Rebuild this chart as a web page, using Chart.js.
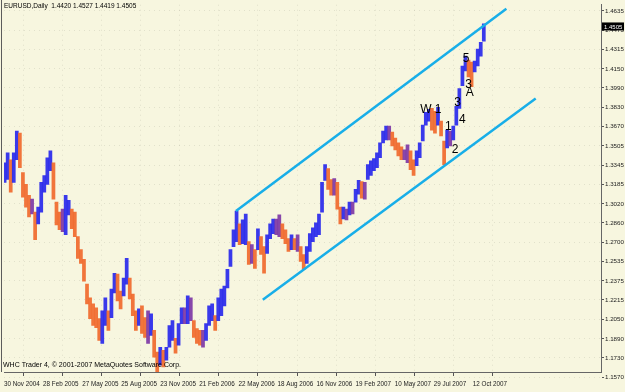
<!DOCTYPE html>
<html>
<head>
<meta charset="utf-8">
<script src="https://cdn.jsdelivr.net/npm/chart.js@4.4.0/dist/chart.umd.min.js"></script>
<style>
  html, body { margin: 0; padding: 0; background: #f7f6df; }
  #chart { display: block; }
</style>
</head>
<body>
<canvas id="chart" width="625" height="392"></canvas>
<script>
// EURUSD daily, drawn as one range bar per week (5 daily bars)
var symbolTitle = 'EURUSD,Daily  1.4420 1.4527 1.4419 1.4505';
var copyrightText = 'WHC Trader 4, \u00a9 2001-2007 MetaQuotes Software Corp.';
var lastPrice = 1.4505;
var barsPerWeek = 5;
var barsPerDateTick = 64;

var dateTicks = ['30 Nov 2004', '28 Feb 2005', '27 May 2005', '25 Aug 2005', '23 Nov 2005',
  '21 Feb 2006', '22 May 2006', '18 Aug 2006', '16 Nov 2006', '19 Feb 2007',
  '10 May 2007', '29 Jul 2007', '12 Oct 2007'];

var priceTicks = [1.4635, 1.4475, 1.4315, 1.4150, 1.3990, 1.3830, 1.3670, 1.3505, 1.3345,
  1.3185, 1.3020, 1.2860, 1.2700, 1.2535, 1.2375, 1.2215, 1.2050, 1.1890, 1.1730, 1.1570];

var weeklyHigh = [
  1.3364, 1.3447, 1.3389, 1.3447, 1.3629, 1.3612, 1.3282, 1.3183, 1.3092, 1.3059,
  1.2951, 1.2993, 1.3199, 1.3257, 1.3406, 1.3464, 1.3364, 1.3034, 1.2951, 1.2976,
  1.3092, 1.3050, 1.2976, 1.2951, 1.2745, 1.2637, 1.2555, 1.2348, 1.2232, 1.2183,
  1.2150, 1.2059, 1.2125, 1.2232, 1.2125, 1.2307, 1.2439, 1.2431, 1.2290, 1.2398,
  1.2563, 1.2398, 1.2265, 1.2125, 1.2141, 1.2166, 1.2067, 1.2125, 1.2100, 1.1960,
  1.1778, 1.1819, 1.1794, 1.1819, 1.2001, 1.2042, 1.1894, 1.2017, 1.2150, 1.2150,
  1.2249, 1.2232, 1.2042, 1.1976, 1.1960, 1.1960, 1.2017, 1.2166, 1.2183, 1.2084,
  1.2232, 1.2307, 1.2331, 1.2472, 1.2637, 1.2803, 1.2960, 1.2852, 1.2885, 1.2935,
  1.2703, 1.2679, 1.2637, 1.2811, 1.2745, 1.2662, 1.2761, 1.2852, 1.2893, 1.2893,
  1.2927, 1.2852, 1.2803, 1.2728, 1.2761, 1.2728, 1.2761, 1.2662, 1.2596, 1.2662,
  1.2770, 1.2819, 1.2860, 1.2935, 1.3199, 1.3348, 1.3315, 1.3224, 1.3232, 1.3199,
  1.2993, 1.2993, 1.2976, 1.3034, 1.3034, 1.3141, 1.3216, 1.3207, 1.3199, 1.3348,
  1.3381, 1.3398, 1.3447, 1.3530, 1.3629, 1.3670, 1.3670, 1.3621, 1.3571, 1.3530,
  1.3497, 1.3472, 1.3513, 1.3464, 1.3389, 1.3464, 1.3530, 1.3679, 1.3786, 1.3811,
  1.3819, 1.3794, 1.3827, 1.3712, 1.3546, 1.3637, 1.3629, 1.3670, 1.3836, 1.3984,
  1.4174, 1.4257, 1.4224, 1.4207, 1.4216, 1.4315, 1.4373, 1.4527
];

var weeklyLow = [
  1.3199, 1.3224, 1.3117, 1.3199, 1.3389, 1.3323, 1.3075, 1.2993, 1.2910, 1.2935,
  1.2720, 1.2852, 1.2951, 1.3117, 1.3183, 1.3298, 1.3059, 1.2844, 1.2803, 1.2786,
  1.2761, 1.2927, 1.2811, 1.2745, 1.2563, 1.2522, 1.2373, 1.2183, 1.2059, 1.2001,
  1.1984, 1.1877, 1.1852, 1.2001, 1.1960, 1.2067, 1.2274, 1.2207, 1.2141, 1.2249,
  1.2348, 1.2224, 1.2084, 1.1960, 1.2001, 1.1935, 1.1902, 1.1852, 1.1918, 1.1736,
  1.1615, 1.1670, 1.1654, 1.1712, 1.1819, 1.1877, 1.1770, 1.1836, 1.2017, 1.2017,
  1.2017, 1.2042, 1.1902, 1.1852, 1.1836, 1.1819, 1.1877, 1.2001, 1.2042, 1.1960,
  1.2042, 1.2084, 1.2166, 1.2315, 1.2497, 1.2662, 1.2703, 1.2679, 1.2687, 1.2679,
  1.2513, 1.2522, 1.2480, 1.2637, 1.2596, 1.2439, 1.2604, 1.2728, 1.2770, 1.2761,
  1.2745, 1.2728, 1.2687, 1.2621, 1.2637, 1.2637, 1.2621, 1.2538, 1.2472, 1.2522,
  1.2621, 1.2703, 1.2745, 1.2761, 1.2951, 1.3216, 1.3141, 1.3092, 1.3092, 1.2976,
  1.2852, 1.2893, 1.2885, 1.2927, 1.2935, 1.3034, 1.3100, 1.3067, 1.3059, 1.3224,
  1.3257, 1.3298, 1.3323, 1.3406, 1.3530, 1.3555, 1.3555, 1.3505, 1.3472, 1.3422,
  1.3389, 1.3389, 1.3364, 1.3307, 1.3257, 1.3340, 1.3406, 1.3546, 1.3679, 1.3712,
  1.3637, 1.3612, 1.3679, 1.3588, 1.3348, 1.3488, 1.3505, 1.3555, 1.3679, 1.3819,
  1.4009, 1.4133, 1.4083, 1.4001, 1.4125, 1.4174, 1.4257, 1.4381
];

// channel lines, in (bar number, price)
var upperChannel = [{ x: 380, y: 1.2959 }, { x: 823, y: 1.4654 }];
var lowerChannel = [{ x: 424, y: 1.2216 }, { x: 871, y: 1.3902 }];

// wave counts written on the chart
var waveLabels = [
  { text: 'W', bar: 691, price: 1.3805 },
  { text: '1', bar: 711, price: 1.3805 },
  { text: '1', bar: 728, price: 1.3662 },
  { text: '2', bar: 739, price: 1.3474 },
  { text: '3', bar: 743, price: 1.3869 },
  { text: '4', bar: 751, price: 1.3722 },
  { text: '5', bar: 757, price: 1.4232 },
  { text: '3', bar: 761, price: 1.4017 },
  { text: 'A', bar: 763, price: 1.3949 }
];

var upColor = 'rgba(40,40,235,0.92)';
var flatColor = 'rgba(125,55,165,0.92)';
var downColor = 'rgba(240,105,45,0.92)';
var channelColor = '#18aee8';
var smallFont = 'Liberation Sans';

var mids = weeklyHigh.map(function(h, i) { return (h + weeklyLow[i]) / 2; });
var barColors = mids.map(function(m, i) {
  var d = i === 0 ? 0.003 : m - mids[i - 1];
  if (d > 0.0015) return upColor;
  if (d < -0.0015) return downColor;
  return flatColor;
});
var priceBars = weeklyHigh.map(function(h, i) {
  return { x: i * barsPerWeek + 1, y: [weeklyLow[i], h] };
});

var background = {
  id: 'background',
  beforeDraw: function(chart) {
    var ctx = chart.ctx;
    ctx.save();
    ctx.fillStyle = '#f7f6df';
    ctx.fillRect(0, 0, chart.width, chart.height);
    ctx.restore();
  }
};

var overlay = {
  id: 'overlay',
  afterDraw: function(chart) {
    var ctx = chart.ctx,
        area = chart.chartArea,
        xs = chart.scales.x,
        ys = chart.scales.y;
    ctx.save();

    // left frame
    ctx.fillStyle = '#5c5c5c';
    ctx.fillRect(1, 0, 1, area.bottom);

    ctx.fillStyle = '#000';
    ctx.textBaseline = 'middle';
    ctx.textAlign = 'left';
    ctx.font = '6.5px "' + smallFont + '"';
    ctx.fillText(symbolTitle, 4, 6);

    ctx.font = '7px "' + smallFont + '"';
    ctx.fillText(copyrightText, 3, area.bottom - 7);

    ctx.font = '12px "Liberation Sans"';
    ctx.textAlign = 'center';
    waveLabels.forEach(function(w) {
      ctx.fillText(w.text, xs.getPixelForValue(w.bar), ys.getPixelForValue(w.price));
    });

    // last price marker
    var py = ys.getPixelForValue(lastPrice);
    ctx.fillStyle = '#000';
    ctx.fillRect(area.right + 1, py - 4, 22, 8);
    ctx.fillStyle = '#fff';
    ctx.textAlign = 'left';
    ctx.font = '6px "' + smallFont + '"';
    ctx.fillText(lastPrice.toFixed(4), area.right + 3, py + 0.5);
    ctx.restore();
  }
};

new Chart(document.getElementById('chart'), {
  type: 'bar',
  data: {
    datasets: [
      {
        type: 'line',
        data: upperChannel,
        borderColor: channelColor,
        borderWidth: 2.5,
        pointRadius: 0,
        order: 0
      },
      {
        type: 'line',
        data: lowerChannel,
        borderColor: channelColor,
        borderWidth: 2.5,
        pointRadius: 0,
        order: 0
      },
      {
        data: priceBars,
        backgroundColor: barColors,
        borderWidth: 0,
        barPercentage: 1,
        categoryPercentage: 1,
        grouped: false,
        order: 1
      }
    ]
  },
  options: {
    responsive: false,
    animation: false,
    events: [],
    layout: { padding: { left: 1, top: 0, right: 0, bottom: 0 } },
    plugins: { legend: { display: false }, tooltip: { enabled: false } },
    scales: {
      x: {
        type: 'linear',
        min: 0,
        max: 978,
        offset: false,
        bounds: 'data',
        afterBuildTicks: function(scale) {
          scale.ticks = dateTicks.map(function(d, i) { return { value: i * barsPerDateTick }; });
        },
        afterFit: function(scale) { scale.height = 20; },
        ticks: {
          autoSkip: false,
          maxRotation: 0,
          align: 'start',
          padding: 4,
          color: '#222',
          font: { family: smallFont, size: 6.3 },
          callback: function(v, i) { return dateTicks[i]; }
        },
        grid: {
          color: 'rgba(150,150,130,0.22)',
          tickColor: '#555',
          tickLength: 4,
          tickBorderDash: []
        },
        border: { color: '#666', width: 1, dash: [1, 4] }
      },
      y: {
        position: 'right',
        min: 1.1612,
        max: 1.4687,
        bounds: 'data',
        afterBuildTicks: function(scale) {
          scale.ticks = priceTicks.map(function(v) { return { value: v }; });
        },
        afterFit: function(scale) { scale.width = 24; },
        ticks: {
          padding: 1,
          color: '#222',
          font: { family: smallFont, size: 6.2 },
          callback: function(v) { return v.toFixed(4); }
        },
        grid: {
          color: 'rgba(150,150,130,0.22)',
          tickColor: '#555',
          tickLength: 3,
          tickBorderDash: []
        },
        border: { color: '#666', width: 1, dash: [1, 4] }
      }
    }
  },
  plugins: [background, overlay]
});
</script>
</body>
</html>
